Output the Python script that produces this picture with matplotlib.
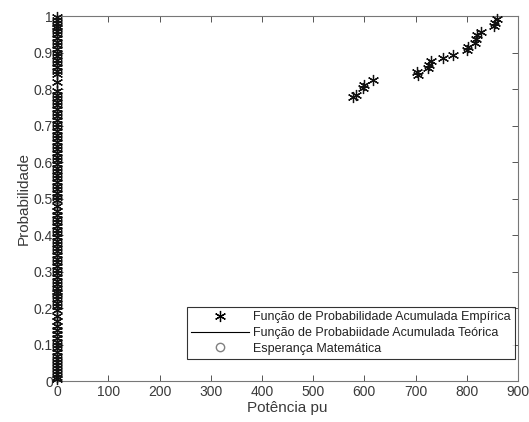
import matplotlib
matplotlib.use("Agg")
import matplotlib.pyplot as plt
from matplotlib.lines import Line2D

plt.rcParams['font.family'] = ['Liberation Sans', 'DejaVu Sans']

# Empirical CDF samples: zero-power observations
prob_zero = [
    0.005, 0.012, 0.020, 0.028, 0.036, 0.044, 0.052, 0.060, 0.070, 0.080,
    0.090, 0.100, 0.108, 0.118, 0.128, 0.140, 0.152, 0.165, 0.178, 0.195,
    0.205, 0.215, 0.224, 0.232, 0.240, 0.248, 0.256, 0.265, 0.275, 0.285,
    0.295, 0.305, 0.315, 0.325, 0.335, 0.345, 0.355, 0.365, 0.375, 0.385,
    0.395, 0.405, 0.415, 0.425, 0.435, 0.445, 0.455, 0.465, 0.480, 0.495,
    0.505, 0.515, 0.525, 0.535, 0.545, 0.555, 0.565, 0.575, 0.585, 0.595,
    0.605, 0.615, 0.625, 0.635, 0.645, 0.655, 0.665, 0.675, 0.685, 0.695,
    0.705, 0.715, 0.725, 0.735, 0.745, 0.755, 0.765, 0.775, 0.785, 0.795,
    0.820, 0.840, 0.850, 0.860, 0.870, 0.880, 0.890, 0.900, 0.910, 0.920,
    0.930, 0.940, 0.950, 0.958, 0.966, 0.974, 0.982, 0.990, 0.996,
]
# Empirical CDF samples: non-zero power observations
power_pos = [577, 583, 598, 599, 617, 704, 703, 725, 727, 731, 754, 773,
             800, 803, 816, 819, 821, 828, 853, 855, 860]
prob_pos = [0.779, 0.785, 0.802, 0.811, 0.825, 0.838, 0.847, 0.857, 0.866,
            0.877, 0.884, 0.893, 0.907, 0.916, 0.925, 0.936, 0.947, 0.956,
            0.973, 0.982, 0.993]

# Theoretical CDF and expected value
theo_x = [0, 0]
theo_y = [0, 1]
mean_x = [0]
mean_y = [0.5]

x_ticks = [0, 100, 200, 300, 400, 500, 600, 700, 800, 900]
y_ticks = [0, 0.1, 0.2, 0.3, 0.4, 0.5, 0.6, 0.7, 0.8, 0.9, 1]

fig = plt.figure(figsize=(5.29, 4.22), dpi=100)
ax = fig.add_axes([0.108, 0.097, 0.871, 0.865])

txt = '#3a3a3a'
star = (6, 2, 0)

ax.plot(theo_x, theo_y, color='black', lw=0.8, zorder=2, clip_on=False)
ax.plot(mean_x, mean_y, 'o', mfc='none', mec='#808080', ms=6, zorder=2,
        clip_on=False)
ax.plot([0] * len(prob_zero), prob_zero, linestyle='none', marker=star,
        ms=8, mec='#111111', mew=0.9, zorder=3, clip_on=False)
ax.plot(power_pos, prob_pos, linestyle='none', marker=star,
        ms=8, mec='#111111', mew=0.9, zorder=3, clip_on=False)

ax.set_xlim(0, 900)
ax.set_ylim(0, 1)
ax.set_xticks(x_ticks)
ax.set_yticks(y_ticks)
ax.set_xticklabels([str(v) for v in x_ticks])
ax.set_yticklabels(['0', '0.1', '0.2', '0.3', '0.4', '0.5', '0.6', '0.7',
                    '0.8', '0.9', '1'])
ax.tick_params(direction='in', top=True, right=True, length=4, width=0.7,
               colors='#555555', labelcolor=txt, labelsize=10, pad=3)
for s in ax.spines.values():
    s.set_color('#777777')
    s.set_linewidth(0.8)

ax.set_xlabel('Potência pu', fontsize=11, color=txt, labelpad=1)
ax.set_ylabel('Probabilidade', fontsize=11, color=txt, labelpad=2)

handles = [
    Line2D([], [], linestyle='none', marker=star, ms=8, mec='black', mew=0.9),
    Line2D([], [], color='black', lw=0.8),
    Line2D([], [], linestyle='none', marker='o', mfc='none', mec='#808080', ms=6),
]
labels = ['Função de Probabilidade Acumulada Empírica',
          'Função de Probabiidade Acumulada Teórica',
          'Esperança Matemática']
leg = ax.legend(handles, labels, loc='lower right', bbox_to_anchor=(0.9935, 0.06),
                fontsize=9, frameon=True, fancybox=False, edgecolor='black',
                borderpad=0.35, labelspacing=0.3, handlelength=4.6,
                handletextpad=0.35, borderaxespad=0)
leg._legend_box.sep = 2
leg.get_frame().set_linewidth(0.8)
for t in leg.get_texts():
    t.set_color('#222222')

fig.savefig('out.png', dpi=100, facecolor='white')
